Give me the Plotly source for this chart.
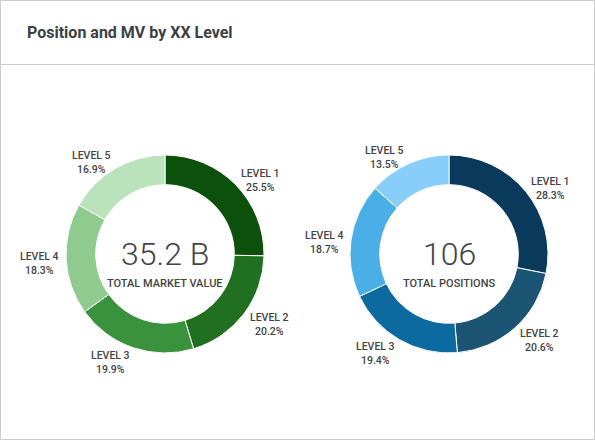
import math
import plotly.graph_objects as go

W, H = 595, 440

title_text = "Position and MV by XX Level"
levels = ["LEVEL 1", "LEVEL 2", "LEVEL 3", "LEVEL 4", "LEVEL 5"]
mv_share = [25.5, 20.2, 19.9, 18.3, 16.9]
pos_share = [28.3, 20.6, 19.4, 18.7, 13.5]
mv_total_label = "35.2 B"
mv_caption = "TOTAL MARKET VALUE"
pos_total_label = "106"
pos_caption = "TOTAL POSITIONS"

green_colors = ["#0b500b", "#217021", "#3a923c", "#8fca8f", "#bae3bb"]
blue_colors = ["#0a3a5b", "#1c5573", "#0d6aa0", "#4aafe6", "#87cffa"]

FONT = "Roboto"
TEXT_COLOR = "#444444"


def px_x(x):
    return x / W


def px_y(y):
    return 1 - y / H


fig = go.Figure()

donuts = [
    dict(cx=165, cy=254, r=99, values=mv_share, colors=green_colors,
         big=mv_total_label, cap=mv_caption, name="MV"),
    dict(cx=449, cy=254, r=99, values=pos_share, colors=blue_colors,
         big=pos_total_label, cap=pos_caption, name="Positions"),
]

annotations = []
for d in donuts:
    cx, cy, r = d["cx"], d["cy"], d["r"]
    fig.add_trace(go.Pie(
        labels=levels,
        values=d["values"],
        name=d["name"],
        hole=0.70,
        sort=False,
        direction="clockwise",
        rotation=0,
        textinfo="none",
        hoverinfo="label+value",
        marker=dict(colors=d["colors"], line=dict(color="#ffffff", width=1)),
        domain=dict(x=[px_x(cx - r), px_x(cx + r)], y=[px_y(cy + r), px_y(cy - r)]),
        showlegend=False,
    ))
    # outside labels placed from the slice mid-angles
    total = sum(d["values"])
    cum = 0.0
    for lab, v in zip(levels, d["values"]):
        mid = (cum + v / 2) / total * 2 * math.pi
        cum += v
        lr = r + 5
        s, c = math.sin(mid), math.cos(mid)
        lx = cx + lr * s
        ly = cy - lr * c + 4 - 6 * c
        annotations.append(dict(
            x=px_x(lx), y=px_y(ly), xref="paper", yref="paper",
            text=f"{lab}<br>{v:.1f}%",
            showarrow=False, align="center",
            xanchor="left" if s >= 0 else "right",
            yanchor="middle",
            font=dict(family=FONT, size=10.5, color=TEXT_COLOR, weight=500),
        ))
    annotations.append(dict(
        x=px_x(cx), y=px_y(cy), xref="paper", yref="paper",
        text=d["big"], showarrow=False, xanchor="center", yanchor="middle",
        font=dict(family=FONT, size=32, color=TEXT_COLOR, weight=300),
    ))
    annotations.append(dict(
        x=px_x(cx), y=px_y(cy + 29), xref="paper", yref="paper",
        text=d["cap"], showarrow=False, xanchor="center", yanchor="middle",
        font=dict(family=FONT, size=11, color=TEXT_COLOR, weight=500),
    ))

annotations.append(dict(
    x=px_x(25), y=px_y(32), xref="paper", yref="paper",
    text=title_text, showarrow=False, xanchor="left", yanchor="middle",
    font=dict(family=FONT, size=16, color="#3c4043", weight="bold"),
))

shapes = [
    dict(type="rect", xref="paper", yref="paper",
         x0=px_x(0.5), x1=px_x(W - 0.5), y0=px_y(H - 0.5), y1=px_y(0.5),
         line=dict(color="#cccccc", width=1)),
    dict(type="line", xref="paper", yref="paper",
         x0=0, x1=1, y0=px_y(64.5), y1=px_y(64.5),
         line=dict(color="#cccccc", width=1)),
]

fig.update_layout(
    width=W, height=H,
    margin=dict(l=0, r=0, t=0, b=0),
    paper_bgcolor="#ffffff",
    plot_bgcolor="#ffffff",
    annotations=annotations,
    shapes=shapes,
    font=dict(family=FONT, color=TEXT_COLOR),
)

fig.write_html("out.html", config={"displayModeBar": False})
